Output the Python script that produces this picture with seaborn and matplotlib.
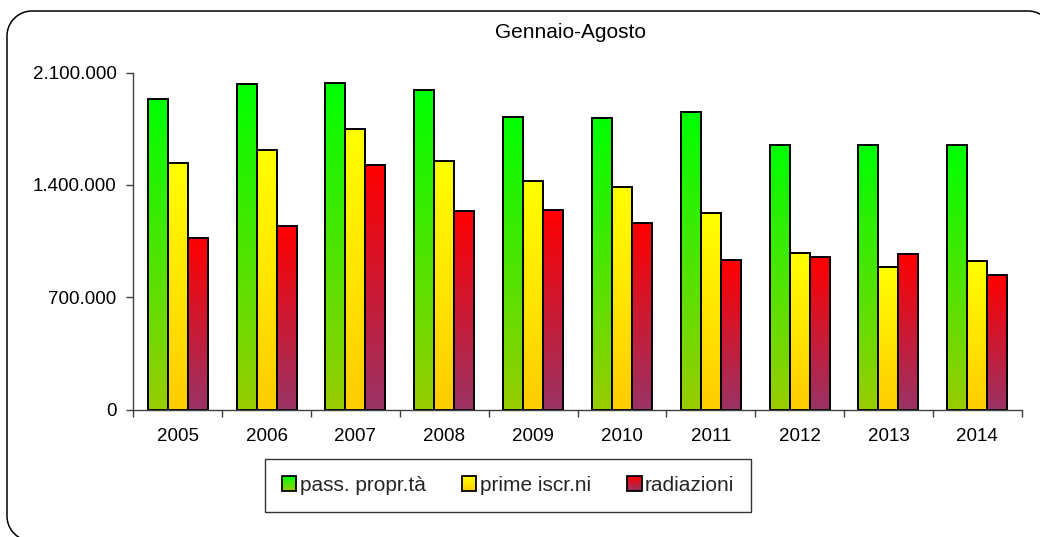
import numpy as np
import pandas as pd
import matplotlib
matplotlib.use("Agg")
import matplotlib.pyplot as plt
import seaborn as sns
from matplotlib.patches import Rectangle, PathPatch
from matplotlib.path import Path
from matplotlib.transforms import IdentityTransform
from matplotlib.ticker import FuncFormatter, FixedLocator
from matplotlib.colors import to_rgb

years = ["2005", "2006", "2007", "2008", "2009", "2010", "2011", "2012", "2013", "2014"]
series = ["pass. propr.tà", "prime iscr.ni", "radiazioni"]
pass_propr = [1934000, 2031000, 2036000, 1990000, 1822000, 1818000, 1857000, 1649000, 1651000, 1649000]
prime_iscr = [1535000, 1618000, 1749000, 1549000, 1423000, 1387000, 1223000, 974000, 890000, 926000]
radiazioni = [1067000, 1144000, 1523000, 1240000, 1246000, 1161000, 932000, 949000, 968000, 839000]
y_ticks = [0, 700000, 1400000, 2100000]
title = "Gennaio-Agosto"

top_colors = ["#00FF00", "#FFFF00", "#FF0000"]
bottom_colors = ["#99CC00", "#FFCC00", "#993366"]

df = pd.DataFrame({
    "anno": years * 3,
    "serie": [series[0]] * 10 + [series[1]] * 10 + [series[2]] * 10,
    "valore": pass_propr + prime_iscr + radiazioni,
})

sns.set_theme(style="white")
plt.rcParams["font.family"] = ["Liberation Sans", "DejaVu Sans"]

fig = plt.figure(figsize=(10.4, 5.37), dpi=100)
ax = fig.add_axes([0.1282, 0.2374, 0.9824 - 0.1282, 0.8646 - 0.2374])

sns.barplot(data=df, x="anno", y="valore", hue="serie", order=years, hue_order=series,
            palette=top_colors, width=0.675, ax=ax, legend=False,
            edgecolor="black", linewidth=1.4, saturation=1)


def gradient_img(top, bottom, n=256):
    t = np.array(to_rgb(top))
    b = np.array(to_rgb(bottom))
    f = np.linspace(0, 1, n)[:, None]
    arr = t * (1 - f) + b * f
    return arr[:, None, :]


for i, cont in enumerate(ax.containers):
    img = gradient_img(top_colors[i], bottom_colors[i])
    for p in cont.patches:
        x, y0 = p.get_x(), p.get_y()
        w, h = p.get_width(), p.get_height()
        im = ax.imshow(img, extent=[x, x + w, y0, y0 + h], origin="upper",
                       aspect="auto", zorder=p.get_zorder() - 0.1, interpolation="bilinear")
        im.set_clip_path(p)
        p.set_facecolor("none")

ax.set_xlim(-0.5, 9.5)
ax.set_ylim(0, 2100000)
ax.set_aspect("auto")
ax.set_xlabel("")
ax.set_ylabel("")

ax.yaxis.set_major_locator(FixedLocator(y_ticks))
ax.yaxis.set_major_formatter(FuncFormatter(lambda v, _: f"{int(v):,}".replace(",", ".")))
ax.xaxis.set_minor_locator(FixedLocator(np.arange(-0.5, 10, 1.0)))
ax.tick_params(axis="x", which="major", length=0, pad=13, labelsize=13.5)
ax.tick_params(axis="x", which="minor", length=5, width=1, color="#404040", direction="out", bottom=True)
ax.tick_params(axis="y", which="major", length=5, width=1, color="#404040", direction="out",
               left=True, pad=7, labelsize=13.5)
for s in ["top", "right"]:
    ax.spines[s].set_visible(False)
for s in ["left", "bottom"]:
    ax.spines[s].set_color("#404040")
    ax.spines[s].set_linewidth(1.0)
for lab in ax.get_xticklabels() + ax.get_yticklabels():
    lab.set_color("black")

fig.text(570 / 1040, 1 - 33 / 537, title, ha="center", va="center", fontsize=15, color="black")


class GradHandler:
    def __init__(self, top, bottom):
        self.top = top
        self.bottom = bottom

    def legend_artist(self, legend, orig_handle, fontsize, handlebox):
        x0, y0 = handlebox.xdescent, handlebox.ydescent
        w, h = handlebox.width, handlebox.height
        side = h
        xs = x0 + (w - side) / 2
        n = 12
        t = np.array(to_rgb(self.top))
        b = np.array(to_rgb(self.bottom))
        for k in range(n):
            f = (k + 0.5) / n
            c = t * (1 - f) + b * f
            r = Rectangle((xs, y0 + side * (1 - (k + 1) / n)), side, side / n + 0.05,
                          facecolor=c, edgecolor="none", transform=handlebox.get_transform())
            handlebox.add_artist(r)
        border = Rectangle((xs, y0), side, side, facecolor="none", edgecolor="black",
                           linewidth=1.3, transform=handlebox.get_transform())
        handlebox.add_artist(border)
        return border


handles = [Rectangle((0, 0), 1, 1) for _ in series]
leg = fig.legend(handles, series, loc="center", bbox_to_anchor=(508 / 1040, 1 - 485.5 / 537),
                 ncol=3, frameon=True, fancybox=False, fontsize=15,
                 handler_map={h: GradHandler(top_colors[i], bottom_colors[i]) for i, h in enumerate(handles)},
                 handlelength=0.7, handleheight=0.7, handletextpad=0.15, columnspacing=1.75,
                 borderpad=0.8, borderaxespad=0)
leg.get_frame().set_edgecolor("black")
leg.get_frame().set_linewidth(1.0)
leg.get_frame().set_facecolor("white")


def rounded_rect(x0, y0, x1, y1, r, n=24):
    pts = []
    corners = [(x1 - r, y1 - r, 0, 90), (x0 + r, y1 - r, 90, 180),
               (x0 + r, y0 + r, 180, 270), (x1 - r, y0 + r, 270, 360)]
    for cx, cy, a0, a1 in corners:
        for a in np.linspace(np.radians(a0), np.radians(a1), n):
            pts.append((cx + r * np.cos(a), cy + r * np.sin(a)))
    pts.append(pts[0])
    return Path(np.array(pts))


W, H = fig.bbox.width, fig.bbox.height
border = PathPatch(rounded_rect(7, H - 541, 1053, H - 11, 25), transform=IdentityTransform(),
                   facecolor="none", edgecolor="black", linewidth=1.1, clip_on=False)
fig.patches.append(border)

fig.savefig("out.png", dpi=100, facecolor="white")
